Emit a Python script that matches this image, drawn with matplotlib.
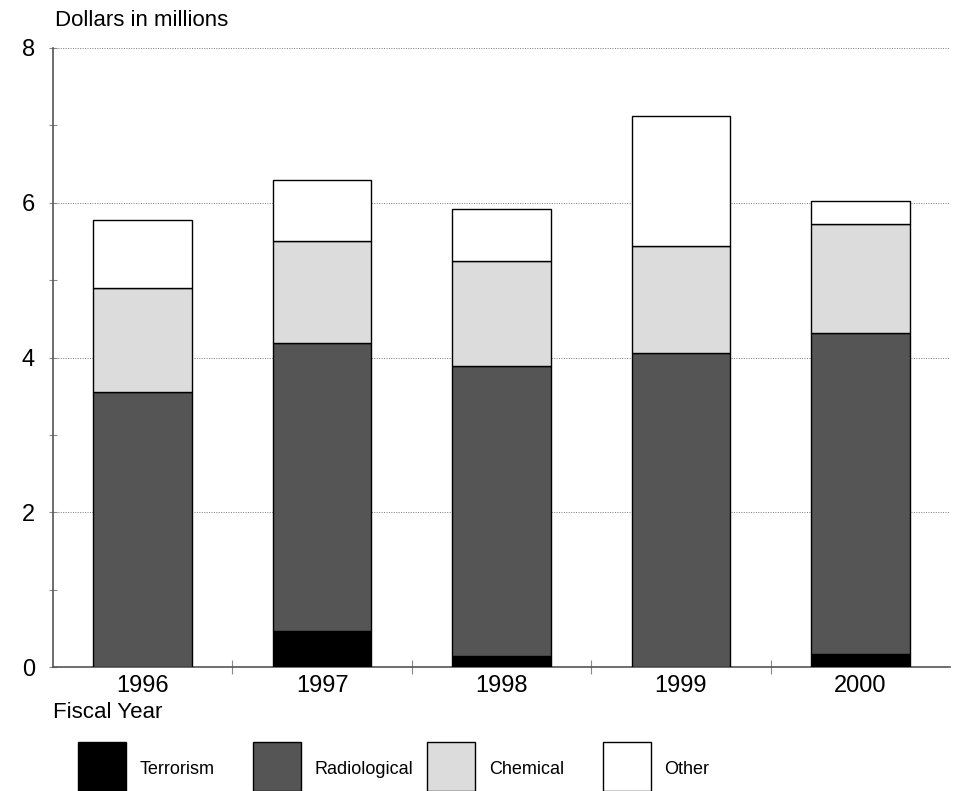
import matplotlib
matplotlib.use("Agg")
import matplotlib.pyplot as plt
from matplotlib.patches import Rectangle
import numpy as np

plt.rcParams['font.family'] = ['Liberation Sans', 'DejaVu Sans']

years = ["1996", "1997", "1998", "1999", "2000"]
series = ["Terrorism", "Radiological", "Chemical", "Other"]
terrorism = [0.0, 0.47, 0.14, 0.0, 0.17]
radiological = [3.55, 3.72, 3.75, 4.06, 4.15]
chemical = [1.35, 1.31, 1.36, 1.38, 1.40]
other = [0.88, 0.79, 0.67, 1.68, 0.30]
values = [terrorism, radiological, chemical, other]
colors = ["#000000", "#555555", "#dcdcdc", "#ffffff"]

fig = plt.figure(figsize=(9.56, 7.91), dpi=100)
ax = fig.add_axes([53/956, 1-667/791, (950-53)/956, (667-48)/791])

x = np.arange(len(years))
bottom = np.zeros(len(years))
for name, vals, c in zip(series, values, colors):
    ax.bar(x, vals, width=0.55, bottom=bottom, color=c, edgecolor="black",
           linewidth=1.0, zorder=3)
    bottom += np.array(vals)

ax.set_xlim(-0.5, 4.5)
ax.set_ylim(0, 8)
ax.set_yticks([0, 2, 4, 6, 8])
ax.set_yticks([1, 3, 5, 7], minor=True)
ax.set_xticks(x)
ax.set_xticklabels(years)
ax.set_xticks(x[:-1] + 0.5, minor=True)
ax.tick_params(axis='x', which='major', length=0, labelsize=17, pad=6)
ax.tick_params(axis='x', which='minor', length=10, direction='inout', color='#888888', width=0.8)
ax.tick_params(axis='y', which='major', length=6, direction='inout', labelsize=17, pad=10, color='#888888', width=0.8)
ax.tick_params(axis='y', which='minor', length=6, direction='inout', color='#888888', width=0.8)
ax.yaxis.grid(True, which='major', linestyle=(0, (1, 1.5)), color='#777777', linewidth=0.7, zorder=0)
for s in ['top', 'right']:
    ax.spines[s].set_visible(False)
ax.spines['left'].set_color('#555555')
ax.spines['bottom'].set_color('#555555')
ax.spines['left'].set_linewidth(1.2)
ax.spines['bottom'].set_linewidth(1.2)

fig.text(55/956, 1-20/791, "Dollars in millions", fontsize=16, va='center', ha='left')
fig.text(53/956, 1-713/791, "Fiscal Year", fontsize=16, va='center', ha='left')

# legend
patch_x = [78, 253, 427, 603]
label_x = [140, 315, 489, 664]
for name, c, px, lx in zip(series, colors, patch_x, label_x):
    r = Rectangle((px/956, 0), 48/956, (791-742)/791, transform=fig.transFigure,
                  facecolor=c, edgecolor="black", linewidth=1.0)
    fig.add_artist(r)
    fig.text(lx/956, 1-769/791, name, fontsize=13, va='center', ha='left')

fig.savefig("out.png", dpi=100)
